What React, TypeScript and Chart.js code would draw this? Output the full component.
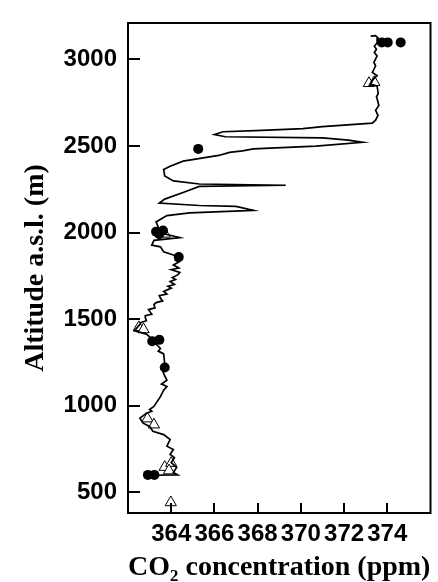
import React, { useEffect, useRef } from "react";
import { Chart, registerables } from "chart.js";
Chart.register(...registerables);

// CO2 (ppm), altitude (m) along the measured profile, top to bottom
const profilePoints: [number, number][] = [
  [373.23, 3134], [373.45, 3137], [373.57, 3124], [373.53, 3096], [373.4, 3076], [373.5, 3058],
  [373.4, 3040], [373.53, 3020], [373.38, 2982], [373.46, 2963], [373.31, 2925], [373.53, 2906],
  [373.35, 2885], [373.23, 2858], [373.53, 2845], [373.58, 2801], [373.5, 2785], [373.53, 2772],
  [373.61, 2734], [373.46, 2706], [373.57, 2677], [373.46, 2649], [373.31, 2632], [371.0, 2612],
  [370.1, 2600], [368.2, 2590], [366.4, 2582], [366.0, 2566], [366.5, 2553], [371.0, 2546],
  [372.2, 2533], [372.85, 2521], [370.7, 2499], [367.8, 2483], [367.3, 2471], [366.7, 2463],
  [366.2, 2445], [364.55, 2412], [363.95, 2383], [363.65, 2364], [363.7, 2326], [364.1, 2298],
  [365.3, 2280], [369.3, 2273], [365.3, 2266], [364.55, 2231], [363.7, 2193], [363.45, 2170],
  [365.3, 2156], [367.0, 2151], [367.8, 2128], [364.85, 2113], [363.8, 2098], [363.3, 2061],
  [363.4, 2031], [363.25, 2003], [363.95, 1984], [364.4, 1970], [363.2, 1955], [363.1, 1927],
  [363.5, 1917], [363.65, 1889], [364.1, 1870], [364.4, 1855], [364.2, 1840], [364.35, 1830],
  [364.1, 1812], [364.35, 1795], [364.0, 1785], [364.4, 1770], [364.3, 1755], [364.05, 1740],
  [364.2, 1728], [363.95, 1717], [364.15, 1700], [363.85, 1690], [364.0, 1679], [363.65, 1660],
  [363.8, 1645], [363.45, 1635], [363.5, 1622], [363.6, 1605], [363.3, 1595], [363.2, 1584],
  [363.25, 1565], [362.95, 1555], [363.0, 1546], [363.1, 1528], [362.8, 1520], [362.8, 1508],
  [362.85, 1490], [362.6, 1480], [362.55, 1470], [362.3, 1432], [362.85, 1413], [363.2, 1375],
  [363.3, 1356], [363.5, 1330], [363.4, 1315], [363.65, 1299], [363.7, 1242], [363.85, 1225],
  [363.6, 1205], [363.65, 1185], [363.8, 1147], [363.55, 1125], [363.8, 1110], [363.65, 1089],
  [363.5, 1052], [363.2, 995], [363.0, 978], [363.1, 968], [362.85, 956], [362.55, 928],
  [362.7, 899], [363.0, 880], [363.15, 852], [363.65, 833], [363.95, 804], [363.8, 766],
  [364.1, 747], [363.95, 719], [364.15, 700], [364.0, 671], [364.25, 643], [364.1, 614],
  [364.3, 600], [362.9, 598],
];

// filled circles (ppm, m)
const circlePoints: [number, number][] = [
  [373.75, 3098], [374.02, 3098], [374.62, 3098], [365.25, 2483], [363.3, 2005], [363.62, 2012],
  [363.45, 1990], [364.35, 1858], [363.12, 1372], [363.45, 1380], [363.7, 1220], [362.92, 600],
  [363.22, 600],
];

// open triangles (ppm, m)
const trianglePoints: [number, number][] = [
  [373.15, 2862], [373.4, 2868], [363.7, 1992], [362.5, 1452], [362.72, 1440], [362.9, 925],
  [363.2, 890], [363.7, 645], [364.0, 668], [363.9, 625], [363.98, 441],
];

const xTicks = [364, 366, 368, 370, 372, 374];
const yTicks = [500, 1000, 1500, 2000, 2500, 3000];
const xRange = [362, 376];
const yRange = [380, 3210];
const xTitle = "CO₂ concentration (ppm)";
const yTitle = "Altitude a.s.l. (m)";

export default function App() {
  const ref = useRef<HTMLCanvasElement>(null);
  useEffect(() => {
    if (!ref.current) return;
    const toXY = (arr: [number, number][]) => arr.map(([x, y]) => ({ x, y }));
    const framePlugin = {
      id: "frame",
      afterDraw(chart: any) {
        const { ctx, chartArea: a, scales } = chart;
        ctx.save();
        ctx.strokeStyle = "#000";
        ctx.lineWidth = 2;
        ctx.strokeRect(a.left, a.top, a.right - a.left, a.bottom - a.top);
        ctx.beginPath();
        xTicks.forEach((v) => {
          const px = Math.round(scales.x.getPixelForValue(v));
          ctx.moveTo(px, a.bottom);
          ctx.lineTo(px, a.bottom - 10);
        });
        yTicks.forEach((v) => {
          const py = Math.round(scales.y.getPixelForValue(v));
          ctx.moveTo(a.left, py);
          ctx.lineTo(a.left + 12, py);
        });
        ctx.stroke();
        ctx.restore();
      },
    };
    const tickFont = { family: "'Liberation Sans', Arial, sans-serif", size: 24, weight: "bold" as const, lineHeight: 1 };
    const titleFont = { family: "'Liberation Serif', 'Times New Roman', serif", size: 28, weight: "bold" as const, lineHeight: 1 };
    const chart = new Chart(ref.current, {
      type: "scatter",
      data: {
        datasets: [
          {
            data: toXY(profilePoints),
            showLine: true,
            borderColor: "#000",
            borderWidth: 1.7,
            pointRadius: 0,
            tension: 0,
          },
          {
            data: toXY(circlePoints),
            pointStyle: "circle",
            pointRadius: 5,
            backgroundColor: "#000",
            borderColor: "#000",
            borderWidth: 0,
          },
          {
            data: toXY(trianglePoints),
            pointStyle: "triangle",
            pointRadius: 6.5,
            backgroundColor: "#fff",
            borderColor: "#000",
            borderWidth: 1,
          },
        ],
      },
      options: {
        animation: false,
        responsive: true,
        maintainAspectRatio: false,
        layout: { padding: { left: 0, right: 6, top: 15, bottom: 0 } },
        plugins: { legend: { display: false }, tooltip: { enabled: false } },
        scales: {
          x: {
            type: "linear",
            min: xRange[0],
            max: xRange[1],
            afterBuildTicks: (s: any) => {
              s.ticks = xTicks.map((v) => ({ value: v }));
            },
            afterFit: (s: any) => {
              s.height = 69;
            },
            grid: { display: false, drawTicks: false },
            border: { display: false },
            ticks: {
              autoSkip: false,
              maxRotation: 0,
              padding: 9,
              color: "#000",
              font: tickFont,
              callback: (v: any) => String(v),
            },
            title: {
              display: true,
              text: xTitle,
              color: "#000",
              padding: { top: 0, bottom: 0 },
              font: titleFont,
            },
          },
          y: {
            type: "linear",
            min: yRange[0],
            max: yRange[1],
            afterBuildTicks: (s: any) => {
              s.ticks = yTicks.map((v) => ({ value: v }));
            },
            afterFit: (s: any) => {
              s.width = 128;
            },
            grid: { display: false, drawTicks: false },
            border: { display: false },
            ticks: {
              padding: 11,
              color: "#000",
              font: tickFont,
              callback: (v: any) => String(v),
            },
            title: {
              display: true,
              text: yTitle,
              color: "#000",
              padding: { top: 22, bottom: 0 },
              font: titleFont,
            },
          },
        },
      },
      plugins: [framePlugin],
    });
    return () => chart.destroy();
  }, []);
  return (
    <div style={{ position: "fixed", left: 0, top: 0, width: 438, height: 582, background: "#fff" }}>
      <canvas ref={ref} />
    </div>
  );
}
